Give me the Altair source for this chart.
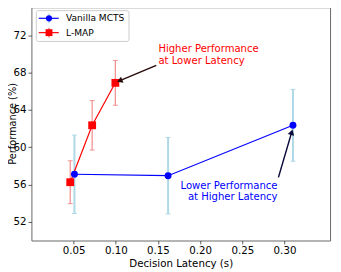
import altair as alt
import pandas as pd

series = ["Vanilla MCTS", "L-MAP"]
mcts_latency = [0.051, 0.162, 0.31]
mcts_perf = [57.1, 56.95, 62.35]
mcts_err = [4.2, 4.1, 3.85]
lmap_latency = [0.046, 0.072, 0.0995]
lmap_perf = [56.25, 62.35, 66.9]
lmap_err = [2.3, 2.65, 2.4]
x_ticks = [0.05, 0.10, 0.15, 0.20, 0.25, 0.30]
y_ticks = [52, 56, 60, 64, 68, 72]

FONT = "DejaVu Sans"
mcts = pd.DataFrame({"lat": mcts_latency, "perf": mcts_perf, "err": mcts_err})
mcts["lo"] = mcts.perf - mcts.err
mcts["hi"] = mcts.perf + mcts.err
lmap = pd.DataFrame({"lat": lmap_latency, "perf": lmap_perf, "err": lmap_err})
lmap["lo"] = lmap.perf - lmap.err
lmap["hi"] = lmap.perf + lmap.err

xs = alt.Scale(domain=[0, 0.354], nice=False, zero=False)
ys = alt.Scale(domain=[50, 75], nice=False, zero=False)
X = alt.X("lat:Q", scale=xs, title="Decision Latency (s)",
          axis=alt.Axis(values=x_ticks, format=".2f"))
Y = alt.Y("perf:Q", scale=ys, title="Performance (%)",
          axis=alt.Axis(values=y_ticks, titleX=-16, titleY=119, titleAngle=270,
                        titleBaseline="alphabetic", titleAlign="center", titleFontSize=10))

def errbars(df, color, width, op):
    base = alt.Chart(df)
    bar = base.mark_rule(color=color, strokeWidth=width, opacity=op).encode(
        x=alt.X("lat:Q", scale=xs), y=alt.Y("lo:Q", scale=ys), y2="hi:Q")
    cap_hi = base.mark_tick(color=color, thickness=1, size=5, orient="horizontal", opacity=op).encode(
        x=alt.X("lat:Q", scale=xs), y=alt.Y("hi:Q", scale=ys))
    cap_lo = base.mark_tick(color=color, thickness=1, size=5, orient="horizontal", opacity=op).encode(
        x=alt.X("lat:Q", scale=xs), y=alt.Y("lo:Q", scale=ys))
    return [bar, cap_hi, cap_lo]

layers = []
layers += errbars(lmap, "#f08080", 1.3, 0.85)
layers += errbars(mcts, "#add8e6", 2, 1)

red_line = alt.Chart(lmap).mark_line(color="#ff0000", strokeWidth=1.2).encode(x=X, y=Y)
blue_line = alt.Chart(mcts).mark_line(color="#0000ff", strokeWidth=1.2).encode(x=X, y=Y)
red_pts = alt.Chart(lmap).mark_point(shape="square", filled=True, color="#ff0000", size=64, opacity=1).encode(x=X, y=Y)
blue_pts = alt.Chart(mcts).mark_point(shape="circle", filled=True, color="#0000ff", size=50, opacity=1).encode(x=X, y=Y)
layers += [red_line, blue_line, red_pts, blue_pts]

# annotations
one = pd.DataFrame({"a": [0]})
def txt(s, x, y, color, align):
    return alt.Chart(one).mark_text(text=s, color=color, font=FONT, fontSize=10.3,
                                    align=align, baseline="middle").encode(
        x=alt.datum(x, scale=xs), y=alt.datum(y, scale=ys))

def arrow(x1, y1, x2, y2, hx, hy, ang, color):
    line = alt.Chart(one).mark_rule(color=color, strokeWidth=1.5).encode(
        x=alt.datum(x1, scale=xs), y=alt.datum(y1, scale=ys),
        x2=alt.datum(x2), y2=alt.datum(y2))
    head = alt.Chart(one).mark_point(shape="triangle", filled=True, color=color,
                                     size=45, angle=ang, opacity=1).encode(
        x=alt.datum(hx, scale=xs), y=alt.datum(hy, scale=ys))
    return [line, head]

layers += [txt("Higher Performance", 0.1505, 70.53, "#ff0000", "left"),
           txt("at Lower Latency", 0.1505, 69.25, "#ff0000", "left"),
           txt("Lower Performance", 0.2917, 55.86, "#0000ff", "right"),
           txt("at Higher Latency", 0.2917, 54.63, "#0000ff", "right")]
layers += arrow(0.148, 68.77, 0.1056, 67.16, 0.1056, 67.16, 247.5, "#2a0a0a")
layers += arrow(0.2928, 56.77, 0.3082, 61.51, 0.3082, 61.51, 16.4, "#0a0a3a")

# legend
box = alt.Chart(one).mark_rect(fill="white", stroke="#cccccc", strokeWidth=1, cornerRadius=2).encode(
    x=alt.value(5), x2=alt.value(100), y=alt.value(3.5), y2=alt.value(35))
layers.append(box)
leg_colors = [("#0000ff", "#add8e6", "circle", 40), ("#ff0000", "#f08080", "square", 50)]
for i, name in enumerate(series):
    yy = 11.3 + i * 14.7
    c, ec, shp, sz = leg_colors[i]
    layers.append(alt.Chart(one).mark_rule(color=ec, strokeWidth=1.5).encode(
        x=alt.value(18), y=alt.value(yy - 5), y2=alt.value(yy + 5)))
    layers.append(alt.Chart(one).mark_rule(color=c, strokeWidth=1.2).encode(
        x=alt.value(7.5), x2=alt.value(28), y=alt.value(yy)))
    layers.append(alt.Chart(one).mark_point(shape=shp, filled=True, color=c, size=sz, opacity=1).encode(
        x=alt.value(18), y=alt.value(yy)))
    layers.append(alt.Chart(one).mark_text(text=name, font=FONT, fontSize=9.3, color="black",
                                           align="left", baseline="middle").encode(
        x=alt.value(35.5), y=alt.value(yy)))

chart = alt.layer(*layers).properties(
    width=306, height=239,
    autosize=alt.AutoSizeParams(type="none"),
    padding={"left": 24, "top": -4, "right": 3, "bottom": 29},
).configure_view(stroke="#666666", strokeWidth=1).configure_axis(
    grid=False, domain=False, tickColor="#333333", tickSize=3.5, tickWidth=0.8,
    labelFont=FONT, labelFontSize=10.5, labelColor="black", labelPadding=2,
    titleFont=FONT, titleFontSize=10.5, titleFontWeight="normal", titleColor="black",
    titlePadding=3,
)

chart.save("out.html", embed_options={"renderer": "svg", "actions": False})
